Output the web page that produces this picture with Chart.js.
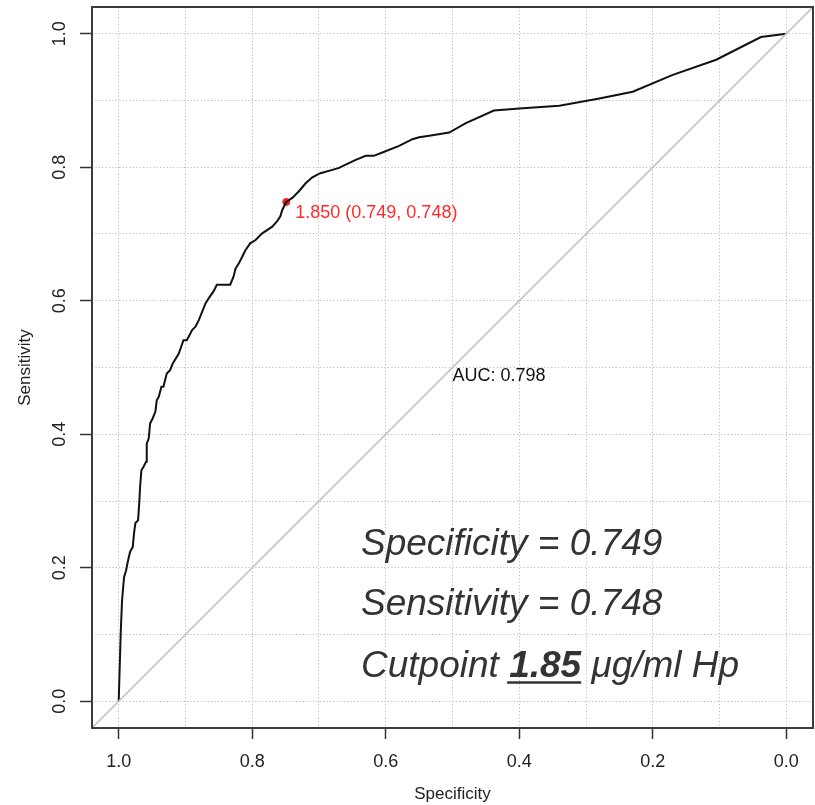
<!DOCTYPE html>
<html>
<head>
<meta charset="utf-8">
<script src="https://cdn.jsdelivr.net/npm/chart.js@4"></script>
<style>
  html, body { margin: 0; padding: 0; background: #fff; }
</style>
</head>
<body>
<canvas id="roc" width="815" height="805"></canvas>
<script>
// ROC curve (specificity runs 1 -> 0)
const specificity = [
  1.000, 0.997, 0.995, 0.992, 0.989, 0.986, 0.983, 0.979, 0.977, 0.975,
  0.971, 0.969, 0.968, 0.966, 0.963, 0.959, 0.958, 0.955, 0.953, 0.949,
  0.945, 0.943, 0.940, 0.936, 0.933, 0.928, 0.923, 0.919, 0.910, 0.903,
  0.898, 0.890, 0.885, 0.880, 0.870, 0.865, 0.858, 0.853, 0.833, 0.828,
  0.825, 0.820, 0.815, 0.810, 0.803, 0.795, 0.785, 0.770, 0.763, 0.758,
  0.755, 0.749, 0.740, 0.730, 0.720, 0.710, 0.698, 0.680, 0.670, 0.660,
  0.645, 0.630, 0.618, 0.605, 0.580, 0.560, 0.550, 0.530, 0.505, 0.480,
  0.438, 0.400, 0.340, 0.280, 0.230, 0.171, 0.105, 0.038, 0.000
];
const sensitivity = [
  0.000, 0.102, 0.151, 0.186, 0.196, 0.211, 0.224, 0.231, 0.252, 0.267,
  0.271, 0.301, 0.321, 0.346, 0.351, 0.359, 0.386, 0.394, 0.416, 0.424,
  0.434, 0.451, 0.456, 0.471, 0.471, 0.491, 0.496, 0.506, 0.521, 0.541,
  0.541, 0.556, 0.561, 0.571, 0.596, 0.604, 0.614, 0.624, 0.624, 0.636,
  0.648, 0.656, 0.666, 0.676, 0.686, 0.691, 0.701, 0.711, 0.719, 0.726,
  0.736, 0.748, 0.754, 0.764, 0.776, 0.785, 0.791, 0.796, 0.799, 0.804,
  0.811, 0.817, 0.817, 0.822, 0.832, 0.842, 0.845, 0.848, 0.852, 0.866,
  0.885, 0.888, 0.892, 0.903, 0.913, 0.938, 0.961, 0.995, 1.000
];

// chance line, runs corner to corner of the plot box
const chanceSpec = [1.04, -0.04];
const chanceSens = [-0.04, 1.04];

// best threshold
const cutSpec = [0.749];
const cutSens = [0.748];
const cutLabel = "1.850 (0.749, 0.748)";
const aucLabel = "AUC: 0.798";
const aucPos = [0.5, 0.5];

const noteLines = ["Specificity = 0.749", "Sensitivity = 0.748"];
const notePos = [0.637, 0.219, 0.129, 0.036]; // x, then baselines of the 3 lines
const cutPre = "Cutpoint ";
const cutValue = "1.85";
const cutPost = " μg/ml Hp";

const gridTicks = [0, 0.1, 0.2, 0.3, 0.4, 0.5, 0.6, 0.7, 0.8, 0.9, 1.0];
const labelTicks = [0, 0.2, 0.4, 0.6, 0.8, 1.0];

const FONT = "'Liberation Sans', Arial, sans-serif";
Chart.defaults.font.family = FONT;

const isLabelled = (v) => labelTicks.some((t) => Math.abs(t - v) < 1e-6);

const extras = {
  id: "extras",
  afterDatasetsDraw(chart) {
    const { ctx, chartArea: a, scales: { x, y } } = chart;
    ctx.save();

    // plot box
    ctx.strokeStyle = "#3c3c3c";
    ctx.lineWidth = 2;
    ctx.strokeRect(a.left, a.top, a.right - a.left, a.bottom - a.top);

    // threshold label
    const px = x.getPixelForValue(cutSpec[0]);
    const py = y.getPixelForValue(cutSens[0]);
    ctx.font = "18px " + FONT;
    ctx.fillStyle = "#ff2a2a";
    ctx.textAlign = "left";
    ctx.textBaseline = "middle";
    ctx.fillText(cutLabel, px + 9, py + 11);

    // AUC
    ctx.fillStyle = "#111";
    ctx.textBaseline = "top";
    ctx.fillText(aucLabel, x.getPixelForValue(aucPos[0]), y.getPixelForValue(aucPos[1]));

    // big notes
    const nx = x.getPixelForValue(notePos[0]);
    ctx.fillStyle = "#333";
    ctx.textBaseline = "alphabetic";
    ctx.font = "italic 37px " + FONT;
    noteLines.forEach((t, i) => {
      ctx.fillText(t, nx, y.getPixelForValue(notePos[i + 1]));
    });
    const by = y.getPixelForValue(notePos[3]);
    let cx = nx;
    ctx.fillText(cutPre, cx, by);
    cx += ctx.measureText(cutPre).width;
    ctx.font = "italic bold 37px " + FONT;
    const w = ctx.measureText(cutValue).width;
    ctx.fillText(cutValue, cx, by);
    ctx.fillRect(cx - 2, by + 4, w + 2, 2.5);
    cx += w;
    ctx.font = "italic 37px " + FONT;
    ctx.fillText(cutPost, cx, by);

    ctx.restore();
  },
};

const axisCommon = {
  type: "linear",
  min: -0.04,
  max: 1.04,
  afterBuildTicks: (s) => {
    s.ticks = gridTicks.map((v) => ({ value: v }));
  },
  border: { display: false, dash: [1.2, 2.2] },
};

new Chart(document.getElementById("roc"), {
  type: "line",
  data: {
    datasets: [
      {
        data: chanceSpec.map((s, i) => ({ x: s, y: chanceSens[i] })),
        borderColor: "#c4c4c4",
        borderWidth: 1.6,
        pointRadius: 0,
      },
      {
        data: specificity.map((s, i) => ({ x: s, y: sensitivity[i] })),
        borderColor: "#111",
        borderWidth: 2,
        pointRadius: 0,
        tension: 0,
      },
      {
        type: "scatter",
        data: cutSpec.map((s, i) => ({ x: s, y: cutSens[i] })),
        backgroundColor: "#ff1a1a",
        borderColor: "#ff1a1a",
        pointRadius: 3.5,
      },
    ],
  },
  options: {
    responsive: false,
    animation: false,
    layout: { padding: { top: 7, right: 2, left: 0, bottom: 0 }, autoPadding: false },
    plugins: { legend: { display: false }, tooltip: { enabled: false } },
    scales: {
      x: {
        ...axisCommon,
        reverse: true,
        ticks: {
          autoSkip: false,
          maxRotation: 0,
          padding: 12,
          color: "#222",
          font: { size: 18 },
          callback: (v) => (isLabelled(v) ? v.toFixed(1) : ""),
        },
        grid: {
          color: "#bdbdbd",
          tickLength: 11,
          tickWidth: 1.5,
          tickColor: (c) => (c.tick && isLabelled(c.tick.value) ? "#333" : "rgba(0,0,0,0)"),
        },
        title: {
          display: true,
          text: "Specificity",
          color: "#222",
          font: { size: 17 },
          padding: { top: 0, bottom: 0 },
        },
        afterFit: (s) => {
          s.height = 77;
          s.paddingLeft = 0;
          s.paddingRight = 0;
        },
      },
      y: {
        ...axisCommon,
        ticks: {
          autoSkip: false,
          minRotation: 90,
          maxRotation: 90,
          crossAlign: "center",
          padding: 7.5,
          color: "#222",
          font: { size: 18 },
          callback: (v) => (isLabelled(v) ? v.toFixed(1) : ""),
        },
        grid: {
          color: "#bdbdbd",
          tickLength: 12,
          tickWidth: 1.5,
          tickColor: (c) => (c.tick && isLabelled(c.tick.value) ? "#333" : "rgba(0,0,0,0)"),
        },
        title: {
          display: true,
          text: "Sensitivity",
          color: "#222",
          font: { size: 17 },
          padding: { top: 15, bottom: 0 },
        },
        afterFit: (s) => {
          s.width = 92;
          s.paddingTop = 0;
          s.paddingBottom = 0;
        },
      },
    },
  },
  plugins: [extras],
});
</script>
</body>
</html>
